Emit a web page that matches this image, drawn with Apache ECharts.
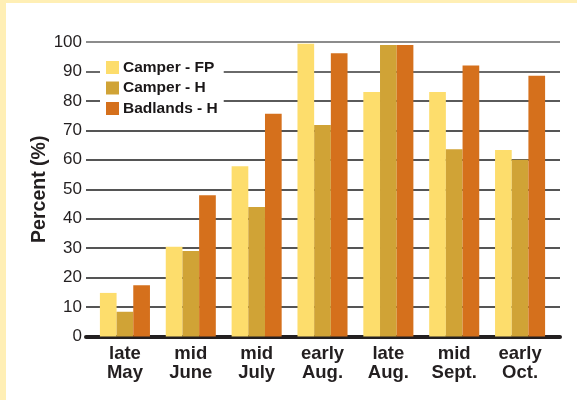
<!DOCTYPE html>
<html><head><meta charset="utf-8">
<script src="https://cdn.jsdelivr.net/npm/echarts@6/dist/echarts.min.js"></script>
<style>html,body{margin:0;padding:0;background:#fff}#c{width:577px;height:400px}</style>
</head><body><div id="c"></div>
<script>
var categories = ['late\nMay', 'mid\nJune', 'mid\nJuly', 'early\nAug.', 'late\nAug.', 'mid\nSept.', 'early\nOct.'];
var seriesNames = ['Camper - FP', 'Camper - H', 'Badlands - H'];
var camperFP = [14.8, 30.5, 57.8, 99.4, 83, 83, 63.3];
var camperH = [8.4, 29, 44, 71.8, 99, 63.6, 60];
var badlandsH = [17.4, 48, 75.6, 96.2, 99, 92, 88.5];
var yTicks = [0, 10, 20, 30, 40, 50, 60, 70, 80, 90, 100];

var colors = ['#FDDD6C', '#D0A336', '#D5701C'];
var chart = echarts.init(document.getElementById('c'));
var font = 'Liberation Sans, Arial, Helvetica, sans-serif';
chart.setOption({
  animation: false,
  graphic: [
    {type: 'rect', shape: {x: 0, y: 0, width: 6, height: 400}, style: {fill: '#FFEFB5'}},
    {type: 'rect', shape: {x: 0, y: 0, width: 577, height: 3}, style: {fill: '#FFEFB5'}}
  ],
  grid: [
    {left: 86, right: 17, top: 42, bottom: 63.5},
    {left: 92, right: 24, top: 42, bottom: 63.5}
  ],
  legend: {
    data: seriesNames,
    orient: 'vertical',
    icon: 'rect',
    left: 100, top: 56.5,
    backgroundColor: '#fff',
    padding: [3, 6, 3, 6],
    itemWidth: 13, itemHeight: 13, itemGap: 4.5,
    textStyle: {fontFamily: font, fontWeight: 'bold', fontSize: 15.5, lineHeight: 14, color: '#1a1718', padding: [0, 0, 0, -1]}
  },
  xAxis: [
    {type: 'category', gridIndex: 0, data: categories, axisLabel: {show: false}, axisTick: {show: false},
     axisLine: {show: true, lineStyle: {color: '#231f20', width: 4}}},
    {type: 'category', gridIndex: 1, data: categories, axisTick: {show: false}, axisLine: {show: false},
     axisLabel: {fontFamily: font, fontWeight: 'bold', fontSize: 18.5, lineHeight: 19, color: '#231f20', margin: 8, interval: 0}}
  ],
  yAxis: [
    {type: 'value', gridIndex: 0, min: 0, max: 100, interval: 10,
     name: 'Percent (%)', nameLocation: 'middle', nameGap: 36, nameMoveOverlap: false,
     nameTextStyle: {fontFamily: font, fontWeight: 'bold', fontSize: 19.5, color: '#231f20'},
     axisLine: {show: false}, axisTick: {show: false},
     axisLabel: {fontFamily: font, fontSize: 17, color: '#231f20', margin: 4,
       formatter: function (v) { return yTicks.indexOf(v) >= 0 ? String(v) : ''; }},
     splitLine: {show: true, lineStyle: {color: ['#555', '#555', '#555', '#555', '#555', '#555', '#555', '#555', '#5a5a5a', '#6a6a6a', '#8c8c8c'], width: 2}}},
    {type: 'value', gridIndex: 1, min: 0, max: 100, interval: 10, show: false, splitLine: {show: false}}
  ],
  series: [
    {name: seriesNames[0], type: 'bar', xAxisIndex: 1, yAxisIndex: 1, data: camperFP, itemStyle: {color: colors[0]}, barGap: '0%', barCategoryGap: '24%'},
    {name: seriesNames[1], type: 'bar', xAxisIndex: 1, yAxisIndex: 1, data: camperH, itemStyle: {color: colors[1]}, barGap: '0%', barCategoryGap: '24%'},
    {name: seriesNames[2], type: 'bar', xAxisIndex: 1, yAxisIndex: 1, data: badlandsH, itemStyle: {color: colors[2]}, barGap: '0%', barCategoryGap: '24%'}
  ]
});
</script></body></html>
